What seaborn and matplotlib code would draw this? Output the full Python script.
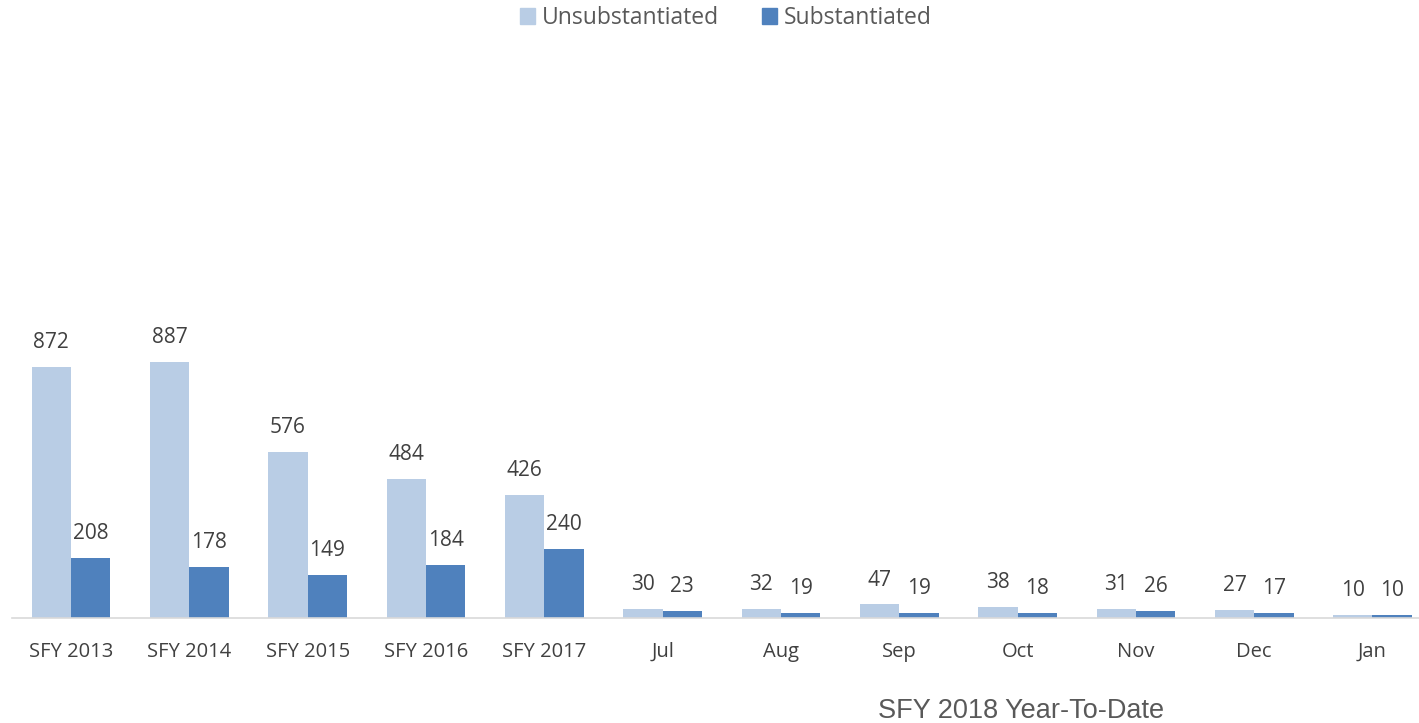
import pandas as pd
import matplotlib
matplotlib.use('Agg')
import matplotlib.pyplot as plt
import seaborn as sns

categories = ['SFY 2013', 'SFY 2014', 'SFY 2015', 'SFY 2016', 'SFY 2017',
              'Jul', 'Aug', 'Sep', 'Oct', 'Nov', 'Dec', 'Jan']
unsubstantiated = [872, 887, 576, 484, 426, 30, 32, 47, 38, 31, 27, 10]
substantiated = [208, 178, 149, 184, 240, 23, 19, 19, 18, 26, 17, 10]
series_names = ['Unsubstantiated', 'Substantiated']
colors = ['#B9CDE5', '#4F81BD']

df = pd.DataFrame({
    'Category': categories * 2,
    'Series': [series_names[0]] * len(categories) + [series_names[1]] * len(categories),
    'Count': unsubstantiated + substantiated,
})

sns.set_style('white')
plt.rcParams['font.family'] = ['Open Sans', 'DejaVu Sans']

fig = plt.figure(figsize=(14.19, 7.23), dpi=100)
ax = fig.add_axes([11.84 / 1419, 105 / 723, 1419.8 / 1419, 576.4 / 723])

sns.barplot(data=df, x='Category', y='Count', hue='Series', palette=colors,
            width=0.665, gap=0, saturation=1, linewidth=0, ax=ax, legend=False)

ax.set_xlim(-0.5, len(categories) - 0.5)
ax.set_ylim(0, 2000)
ax.set_yticks([])
ax.set_xlabel('')
ax.set_ylabel('')
for side in ['top', 'right', 'left']:
    ax.spines[side].set_visible(False)
ax.spines['bottom'].set_color('#D9D9D9')
ax.spines['bottom'].set_linewidth(1.2)
ax.tick_params(axis='x', length=0, pad=17, labelsize=14.5, labelcolor='#404040')

for container in ax.containers:
    ax.bar_label(container, labels=[f'{int(v)}' for v in container.datavalues],
                 padding=10, fontsize=15, color='#404040')

handles = [plt.Rectangle((0, 0), 1, 1, color=c) for c in colors]
fig.legend(handles, series_names, loc='center', bbox_to_anchor=(0.5116, 0.975),
           ncol=2, frameon=False, fontsize=16.5, handlelength=0.65, handleheight=0.65,
           handletextpad=0.3, columnspacing=1.9, labelcolor='#595959')

fig.text(1021 / 1419, 1 - 711 / 723, 'SFY 2018 Year-To-Date', ha='center', va='center',
         fontsize=19.5, color='#595959', family=['Liberation Sans', 'DejaVu Sans'])

fig.savefig('out.png', dpi=100)
